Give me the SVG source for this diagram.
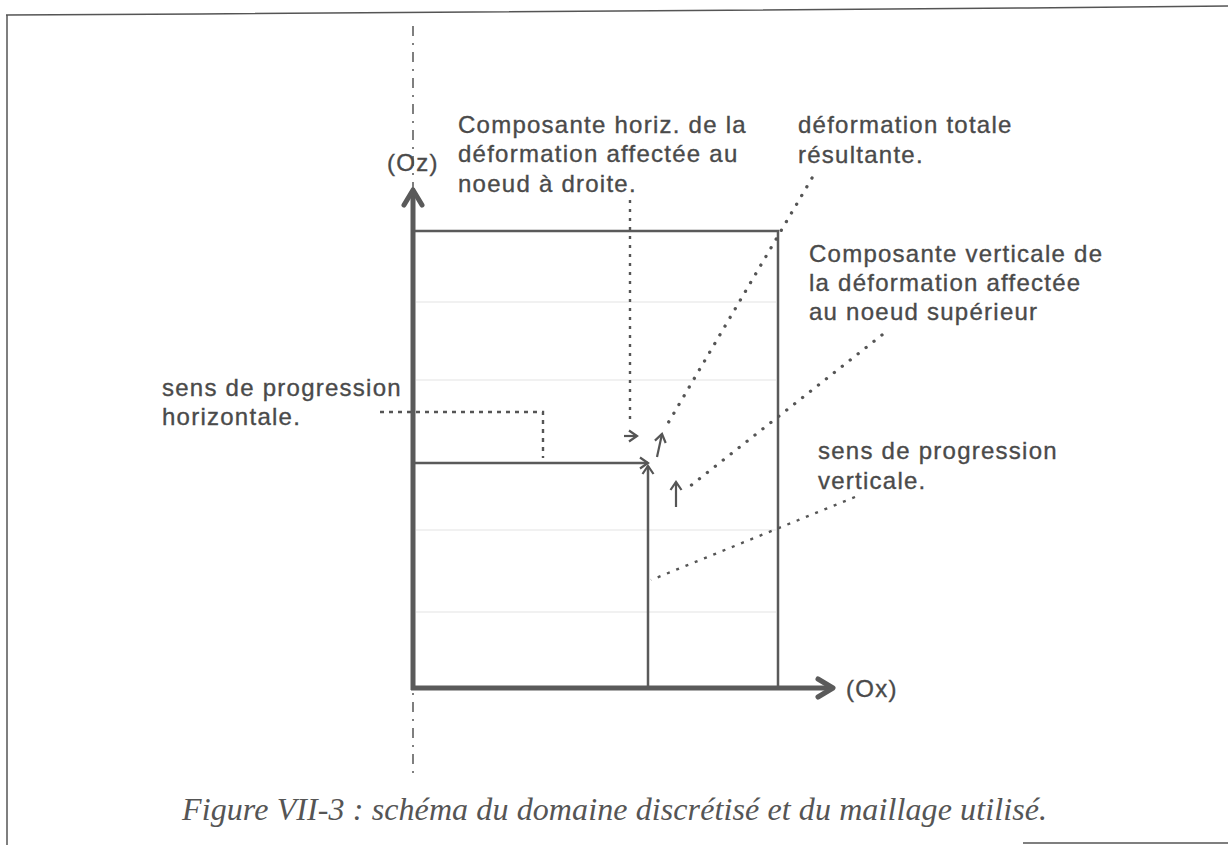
<svg xmlns="http://www.w3.org/2000/svg" width="1228" height="845" viewBox="0 0 1228 845">
<style>
.lbl{font-family:"Liberation Sans",Arial,Helvetica,sans-serif;font-size:24px;letter-spacing:1.25px;fill:#4a4a4a;stroke:#4a4a4a;stroke-width:0.35}
.cap{font-family:"Liberation Serif","Times New Roman",serif;font-style:italic;font-size:32px;fill:#555}
.frame{fill:none;stroke:#555;stroke-width:1.5}
.solid{fill:none;stroke:#5a5a5a;stroke-width:2.5}
.axis{fill:none;stroke:#5a5a5a;stroke-width:5}
.faint{fill:none;stroke:#ececec;stroke-width:1.5}
.dash{fill:none;stroke:#555;stroke-width:2.4;stroke-dasharray:4 5}
.dots{fill:none;stroke:#555;stroke-width:3.3;stroke-linecap:round;stroke-dasharray:0.1 10}
.small{fill:none;stroke:#555;stroke-width:2.2}
</style>
<defs>
<marker id="open" viewBox="0 0 14 14" refX="11" refY="7" markerWidth="14" markerHeight="14" markerUnits="userSpaceOnUse" orient="auto">
<path d="M3,1.5 L11,7 L3,12.5" fill="none" stroke="#555" stroke-width="2.2"/>
</marker>
<marker id="thick" viewBox="0 0 26 26" refX="20" refY="13" markerWidth="26" markerHeight="26" markerUnits="userSpaceOnUse" orient="auto">
<path d="M5,4 L20,13 L5,22" fill="none" stroke="#5a5a5a" stroke-width="5" stroke-linejoin="round" stroke-linecap="round"/>
</marker>
</defs>
<rect width="1228" height="845" fill="#fff"/>
<g id="frame">
<polyline class="frame" points="6,15 200,14 1028,8 1228,6"/>
<line class="frame" x1="7" y1="15" x2="7" y2="845"/>
<line class="frame" x1="1023" y1="843" x2="1228" y2="843"/>
</g>
<g id="symmetry-axis">
<line x1="413" y1="26" x2="413" y2="780" stroke="#555" stroke-width="1.5" stroke-dasharray="10 7 2 7"/>
</g>
<g id="mesh">
<line class="faint" x1="416" y1="302" x2="776" y2="302"/>
<line class="faint" x1="416" y1="380" x2="776" y2="380"/>
<line class="faint" x1="416" y1="530" x2="776" y2="530"/>
<line class="faint" x1="416" y1="612" x2="776" y2="612"/>
</g>
<g id="domain">
<polyline class="solid" points="413,231 778,231 778,688"/>
</g>
<g id="axes">
<line class="axis" x1="413" y1="690" x2="413" y2="190" marker-end="url(#thick)"/>
<line class="axis" x1="411" y1="688" x2="833" y2="688" marker-end="url(#thick)"/>
<text class="lbl" x="387" y="171">(Oz)</text>
<text class="lbl" x="846" y="697">(Ox)</text>
</g>
<g id="progression-arrows">
<line class="solid" x1="414" y1="463" x2="648" y2="463" marker-end="url(#open)"/>
<line class="solid" x1="648" y1="688" x2="648" y2="466" marker-end="url(#open)"/>
</g>
<g id="deformation-arrows">
<line class="small" x1="624" y1="436" x2="637" y2="436" marker-end="url(#open)"/>
<line class="small" x1="657" y1="457" x2="662" y2="434" marker-end="url(#open)"/>
<line class="small" x1="676" y1="507" x2="676" y2="482" marker-end="url(#open)"/>
</g>
<g id="connectors">
<path class="dash" d="M380,412 H543 V458"/>
<path class="dash" d="M630,200 V424" style="stroke-dasharray:3 6"/>
<path class="dots" d="M812,178 L664,430"/>
<path class="dots" d="M882,335 L689,487"/>
<path class="dash" d="M855,497 L651,580" style="stroke-dasharray:3 7"/>
</g>
<g id="label-horiz-component">
<text class="lbl" x="458" y="133">Composante horiz. de la</text>
<text class="lbl" x="458" y="162">déformation affectée au</text>
<text class="lbl" x="458" y="192">noeud à droite.</text>
</g>
<g id="label-total">
<text class="lbl" x="798" y="133">déformation totale</text>
<text class="lbl" x="798" y="163">résultante.</text>
</g>
<g id="label-vert-component">
<text class="lbl" x="809" y="262">Composante verticale de</text>
<text class="lbl" x="809" y="291">la déformation affectée</text>
<text class="lbl" x="809" y="320">au noeud supérieur</text>
</g>
<g id="label-horiz-progression">
<text class="lbl" x="162" y="396">sens de progression</text>
<text class="lbl" x="162" y="425">horizontale.</text>
</g>
<g id="label-vert-progression">
<text class="lbl" x="818" y="459">sens de progression</text>
<text class="lbl" x="818" y="489">verticale.</text>
</g>
<g id="caption">
<text class="cap" x="182" y="820" textLength="865" lengthAdjust="spacing">Figure VII-3 : schéma du domaine discrétisé et du maillage utilisé.</text>
</g>
</svg>
